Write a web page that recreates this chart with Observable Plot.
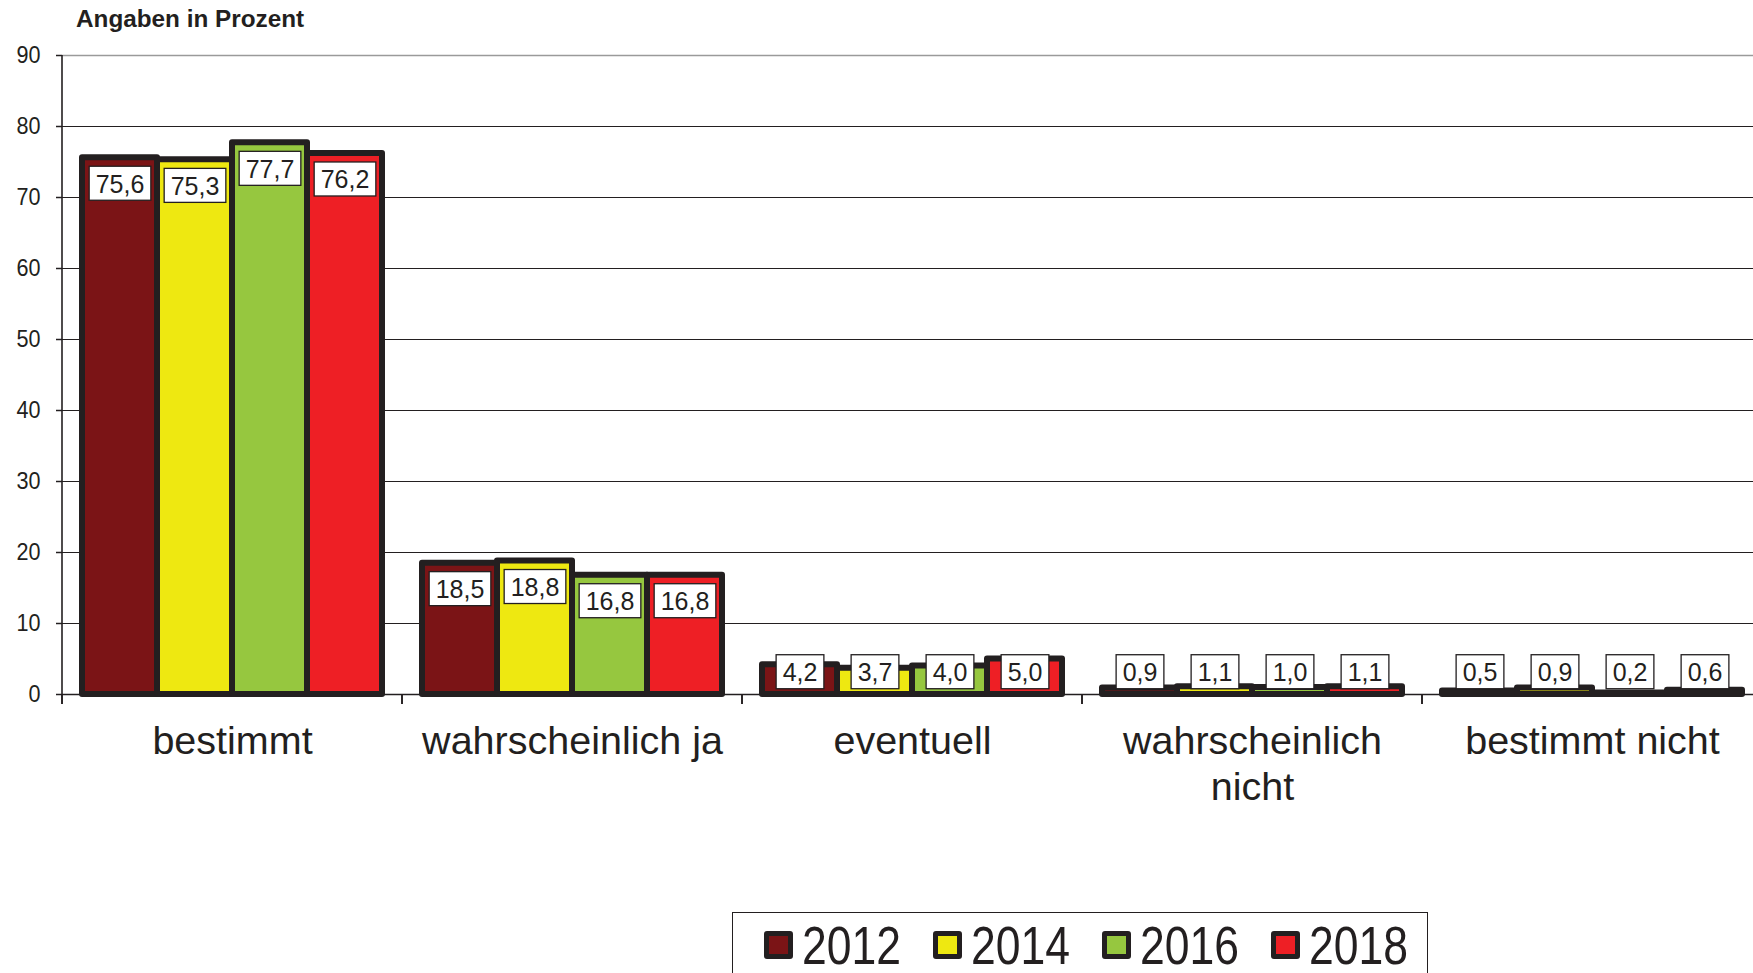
<!DOCTYPE html>
<html>
<head>
<meta charset="utf-8">
<script src="https://cdn.jsdelivr.net/npm/d3@7"></script>
<script src="https://cdn.jsdelivr.net/npm/@observablehq/plot@0.6"></script>
<style>
  html, body { margin: 0; padding: 0; background: #fff; overflow: hidden; }
  body { width: 1753px; height: 973px; position: relative; font-family: "Liberation Sans", Arial, Helvetica, sans-serif; color: #231f20; }
  #title { position: absolute; left: 76px; top: 7px; z-index: 2; font-size: 24.3px; line-height: 24px; font-weight: bold; white-space: nowrap; }
  #chart { position: absolute; left: 0; top: 0; z-index: 1; }
  #legend { position: absolute; left: 732px; top: 912px; z-index: 2; width: 696px; height: 90px; box-sizing: border-box; border: 1.5px solid #231f20; background: #fff; }
  .item { position: absolute; top: 0; height: 80px; width: 165px; }
  .sw { position: absolute; top: 18px; left: 0; width: 29px; height: 28px; box-sizing: border-box; border: 5px solid #231f20; border-radius: 3px; }
  .lt { position: absolute; top: 6px; left: 38px; font-size: 53px; line-height: 53px; transform: scaleX(0.84); transform-origin: left center; white-space: nowrap; }
</style>
</head>
<body>
<div id="title">Angaben in Prozent</div>
<div id="chart"></div>
<div id="legend"></div>
<script>
// ---- data ----
const categories = ["bestimmt", "wahrscheinlich ja", "eventuell", "wahrscheinlich nicht", "bestimmt nicht"];
const years = ["2012", "2014", "2016", "2018"];
const values2012 = [75.6, 18.5, 4.2, 0.9, 0.5];
const values2014 = [75.3, 18.8, 3.7, 1.1, 0.9];
const values2016 = [77.7, 16.8, 4.0, 1.0, 0.2];
const values2018 = [76.2, 16.8, 5.0, 1.1, 0.6];
const yearColors = ["#7b1416", "#eee811", "#96c73f", "#ee1f25"];
const yTicks = [0, 10, 20, 30, 40, 50, 60, 70, 80, 90];

const series = [values2012, values2014, values2016, values2018];
const data = categories.flatMap((c, i) => years.map((y, j) => ({category: c, year: y, value: series[j][i]})));

const ink = "#231f20";
const fmt = v => v.toFixed(1).replace(".", ",");
const catLabel = c => c.length > 18 ? c.replace(" ", "\n") : c;
const yMax = d3.max(yTicks);

const plot = Plot.plot({
  width: 1762,
  height: 900,
  marginTop: 55,
  marginLeft: 62,
  marginRight: 0,
  marginBottom: 206,
  style: {fontFamily: '"Liberation Sans", Arial, Helvetica, sans-serif', color: ink, background: "white", maxWidth: "none", overflow: "visible"},
  fx: {domain: categories, padding: 0, axis: null, label: null},
  x: {domain: years, paddingInner: 0, paddingOuter: 0.26, axis: null},
  y: {domain: [0, yMax], axis: null},
  color: {domain: years, range: yearColors},
  marks: [
    Plot.gridY(yTicks.filter(t => t > 0 && t < yMax), {stroke: ink, strokeOpacity: 1, strokeWidth: 1.2}),
    Plot.gridY([yMax], {stroke: "#9a9a9a", strokeOpacity: 1, strokeWidth: 1.4}),
    Plot.axisY(yTicks, {tickSize: 6, tickPadding: 16, fontSize: 23.5, label: null, stroke: ink, strokeWidth: 1.5, ariaDescription: "y-ticks"}),
    Plot.ruleY([0], {stroke: ink, strokeWidth: 1.6}),
    Plot.barY(data, {fx: "category", x: "year", y: "value", fill: "year", stroke: ink, strokeWidth: 6, strokeLinejoin: "round"}),
    Plot.text(data, {fx: "category", x: "year", y: d => Math.max(d.value, 6.8), text: d => fmt(d.value), dy: 27, fontSize: 25, fill: ink, ariaDescription: "value-labels"}),
    Plot.text(categories, {fx: d => d, text: catLabel, frameAnchor: "bottom", lineAnchor: "top", dy: 28, fontSize: 39.5, lineHeight: 1.14, fill: ink})
  ]
});

document.getElementById("chart").appendChild(plot);

// ---- axis decorations from the plot's own scales ----
const svg = d3.select(plot.tagName.toLowerCase() === "svg" ? plot : plot.querySelector("svg"));
const fxs = plot.scale("fx");
const ys = plot.scale("y");
const y0 = ys.apply(0), yTop = ys.apply(yMax);
const left = fxs.range[0];
const g = svg.append("g").attr("stroke", ink).attr("stroke-width", 1.6);
g.append("line").attr("x1", left).attr("x2", left).attr("y1", yTop).attr("y2", y0 + 10);
categories.forEach(c => {
  const x = fxs.apply(c);
  g.append("line").attr("x1", x).attr("x2", x).attr("y1", y0).attr("y2", y0 + 10);
  const xr = x + fxs.bandwidth;
  g.append("line").attr("x1", xr).attr("x2", xr).attr("y1", y0).attr("y2", y0 + 10);
});

// slightly condensed digits, like the reference typeface
svg.selectAll('g[aria-description="y-ticks"] text').each(function() {
  const t = this.getAttribute("transform") || "";
  const b = this.getBBox();
  const ax = b.x + b.width; // right-anchored
  this.setAttribute("transform", t + ` translate(${ax},0) scale(0.92,1) translate(${-ax},0)`);
});

// ---- white boxes behind value labels ----
svg.selectAll('g[aria-description="value-labels"] text').each(function() {
  const t = this.getAttribute("transform") || "";
  const b = this.getBBox();
  const r = document.createElementNS("http://www.w3.org/2000/svg", "rect");
  r.setAttribute("x", b.x - 6.5);
  r.setAttribute("y", b.y - 3.5);
  r.setAttribute("width", b.width + 13);
  r.setAttribute("height", b.height + 6);
  r.setAttribute("fill", "white");
  r.setAttribute("stroke", ink);
  r.setAttribute("stroke-width", 1.3);
  if (t) r.setAttribute("transform", t);
  this.parentNode.insertBefore(r, this);
});

// ---- legend ----
const legend = document.getElementById("legend");
years.forEach((y, i) => {
  const item = document.createElement("div");
  item.className = "item";
  item.style.left = (31 + i * 169) + "px";
  const sw = document.createElement("div");
  sw.className = "sw";
  sw.style.background = yearColors[i];
  const lt = document.createElement("span");
  lt.className = "lt";
  lt.textContent = y;
  item.appendChild(sw);
  item.appendChild(lt);
  legend.appendChild(item);
});
</script>
</body>
</html>
